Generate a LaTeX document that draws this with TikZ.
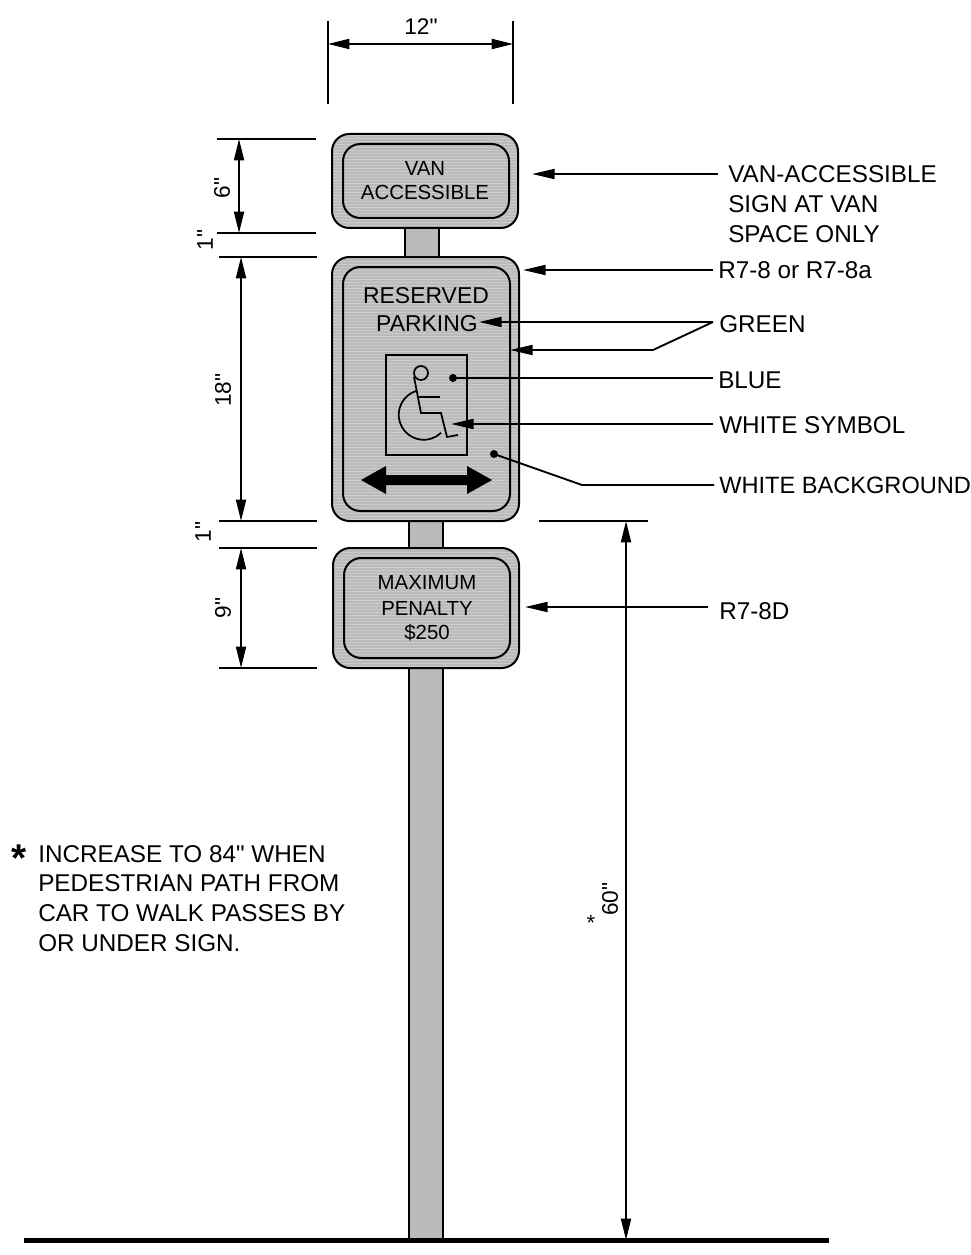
\documentclass[tikz,border=0pt]{standalone}
\usepackage{fontspec}
\setmainfont[Ligatures=TeXOff]{Liberation Sans}
\usetikzlibrary{arrows.meta}

\definecolor{signgray}{RGB}{186,186,186}
\definecolor{stripegray}{RGB}{203,203,203}

\tikzset{
  line/.style={line width=1.5pt,black},
  leader/.style={line width=1.4pt,-{Triangle[length=17pt,width=7.5pt]}},
  dimline/.style={line width=1.4pt,{Triangle[length=16pt,width=7.5pt]}-{Triangle[length=16pt,width=7.5pt]}},
  ext/.style={line width=1.4pt},
  lab/.style={anchor=west,inner sep=3.75pt,font=\fontsize{18.2}{20}\selectfont},
  signlab/.style={inner sep=0pt,font=\fontsize{15.3}{17}\selectfont},
  dimlab/.style={inner sep=0pt,rotate=90,font=\fontsize{17}{18}\selectfont}
}

% outer box of a sign with its stripes, then the inner border
\newcommand{\signpanel}[4]{
  \begin{scope}
    \clip[rounded corners=13pt] (#1,#2) rectangle (#3,#4);
    \fill[signgray] (#1,#2) rectangle (#3,#4);
    \foreach \yy in {#2,...,#4} {
      \pgfmathtruncatemacro{\rest}{mod(\yy,3)}
      \ifnum\rest=0 \draw[stripegray,line width=0.6pt] (#1,\yy) -- (#3,\yy); \fi
    }
  \end{scope}
  \draw[line,rounded corners=13pt] (#1,#2) rectangle (#3,#4);
  \draw[line,rounded corners=13pt] ({#1+11},{#2+10}) rectangle ({#3-9},{#4-10});
}

\begin{document}
\begin{tikzpicture}[x=0.75pt,y=-0.75pt]
\useasboundingbox (0,0) rectangle (970,1255);

% posts
\draw[line,fill=signgray] (405,228) rectangle (439,257);
\draw[line,fill=signgray] (409,521) rectangle (443,548);
\draw[line,fill=signgray] (409,668) rectangle (443,1240);
\draw[line width=3.75pt] (24,1240) -- (829,1240);

% signs
\signpanel{332}{134}{518}{228}
\signpanel{332}{257}{519}{521}
\signpanel{333}{548}{519}{668}

\node[signlab] (van) at (425,168) {VAN};
\node[signlab] (accessible) at (425,192) {ACCESSIBLE};
\node[signlab,font=\fontsize{17.2}{19}\selectfont] (reserved) at (426,296) {RESERVED};
\node[signlab,font=\fontsize{17.2}{19}\selectfont] (parking) at (427,324) {PARKING};
\node[signlab] (maximum) at (427,583) {MAXIMUM};
\node[signlab] (penalty) at (427,608) {PENALTY};
\node[signlab] (fine) at (427,633) {\$250};

% symbol
\draw[line width=1.3pt] (386,355) rectangle (467,455);
\draw[line width=1.3pt] (421,373) circle (7);
\draw[line width=1.3pt] (414,377) -- (421,413) -- (441,413) -- (447,437) -- (458,435);
\draw[line width=1.3pt] (419,397) -- (440,397);
\draw[line width=1.3pt] (416,391) arc[start angle=-108,end angle=-314,radius=25];

% double arrow
\fill[black] (361,480) -- (386,466) -- (386,475) -- (467,475) -- (467,466) -- (492,480)
  -- (467,494) -- (467,485) -- (386,485) -- (386,494) -- cycle;

% labels on the right
\node[lab,inner sep=7.5pt] (vanlabel) at (718,174) {VAN-ACCESSIBLE};
\node[lab,inner sep=7.5pt] (signlabel) at (718,204) {SIGN AT VAN};
\node[lab,inner sep=7.5pt] (spacelabel) at (718,234) {SPACE ONLY};
\node[lab] (rlabel) at (713,270) {R7-8 or R7-8a};
\node[lab] (greenlabel) at (714,324) {GREEN};
\node[lab] (bluelabel) at (713,380) {BLUE};
\node[lab] (symbollabel) at (714,425) {WHITE SYMBOL};
\node[lab,font=\fontsize{17.7}{20}\selectfont] (backlabel) at (714,485) {WHITE BACKGROUND};
\node[lab] (penaltylabel) at (714,611) {R7-8D};

\coordinate (vantip) at (532,174);
\coordinate (rtip) at (523,270);
\coordinate (greenend) at (713,322);
\coordinate (parkingtip) at (479,322);
\coordinate (greenbend) at (653,350);
\coordinate (bordertip) at (510,350);
\coordinate (bluedot) at (453,378);
\coordinate (blueend) at (713,378);
\coordinate (symboltip) at (451,424);
\coordinate (symbolend) at (713,424);
\coordinate (backdot) at (494,454);
\coordinate (backbend) at (582,485);
\coordinate (penaltytip) at (525,607);
\coordinate (penaltyend) at (708,607);

\draw[leader] (vanlabel.west) -- (vantip);
\draw[leader] (rlabel.west) -- (rtip);
\draw[leader] (greenend) -- (parkingtip);
\draw[leader] (greenend) -- (greenbend) -- (bordertip);
\draw[ext] (blueend) -- (bluedot);
\fill (bluedot) circle (4);
\draw[leader] (symbolend) -- (symboltip);
\draw[ext] (backlabel.west) -- (backbend) -- (backdot);
\fill (backdot) circle (4);
\draw[leader] (penaltyend) -- (penaltytip);

% dimensions
\coordinate (wl) at (328,44);
\coordinate (wr) at (513,44);
\draw[ext] (328,21) -- (328,104);
\draw[ext] (513,21) -- (513,104);
\draw[dimline] (wl) -- (wr);
\node[signlab,font=\fontsize{17}{18}\selectfont] (widthlab) at (421,27) {12"};

\foreach \yy/\xa/\xb in {139/217/316,233/217/316,257/219/317,521/219/317,548/219/317,668/219/317}
  \draw[ext] (\xa,\yy) -- (\xb,\yy);
\coordinate (a1) at (239,139);
\coordinate (a2) at (239,233);
\coordinate (b1) at (241,257);
\coordinate (b2) at (241,521);
\coordinate (c1) at (241,548);
\coordinate (c2) at (241,668);
\draw[dimline] (a1) -- (a2);
\draw[dimline] (b1) -- (b2);
\draw[dimline] (c1) -- (c2);
\node[dimlab] (six) at (222,188) {6"};
\node[dimlab] (onea) at (205,240) {1"};
\node[dimlab] (eighteen) at (223,390) {18"};
\node[dimlab] (oneb) at (203,532) {1"};
\node[dimlab] (nine) at (223,608) {9"};

\draw[ext] (539,521) -- (648,521);
\coordinate (h1) at (626,521);
\coordinate (h2) at (626,1240);
\draw[dimline] (h1) -- (h2);
\node[dimlab] (sixty) at (610,899) {60"};
\node[signlab,font=\fontsize{16.5}{18}\selectfont] (smallstar) at (591,923) {*};

% note
\node[lab,inner sep=0pt] (noteone) at (38,854) {INCREASE TO 84" WHEN};
\node[lab,inner sep=0pt] (notetwo) at (38,883) {PEDESTRIAN PATH FROM};
\node[lab,inner sep=0pt] (notethree) at (38,913) {CAR TO WALK PASSES BY};
\node[lab,inner sep=0pt] (notefour) at (38,943) {OR UNDER SIGN.};
\node[inner sep=0pt,font=\fontsize{29}{29}\bfseries] (bigstar) at (19,858) {*};
\end{tikzpicture}
\end{document}
